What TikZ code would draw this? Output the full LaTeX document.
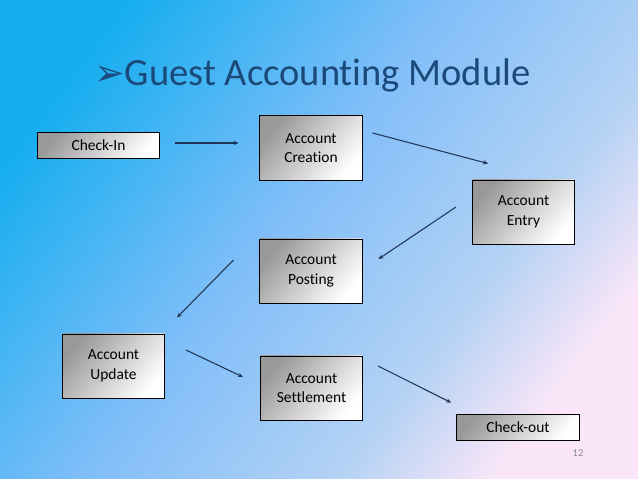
\documentclass[tikz,border=0pt]{standalone}
\usepackage{fontspec}
\setmainfont{Carlito}[Ligatures={NoCommon}]
\newfontfamily\dingfont{DejaVu Sans}
\usepackage{tikz}
\usetikzlibrary{arrows.meta,positioning,calc}

\definecolor{bgcyan}{HTML}{16AEEF}
\definecolor{bgblue}{HTML}{80BEF9}
\definecolor{bglight}{HTML}{B4D2F4}
\definecolor{bgpink}{HTML}{FAE6F8}
\definecolor{titleblue}{HTML}{1B4A7A}
\definecolor{flowline}{HTML}{1E3557}

\pgfdeclareverticalshading{slidebg}{100bp}{%
  color(0bp)=(bgpink); color(25bp)=(bgpink); color(36bp)=(bglight);
  color(54bp)=(bgblue); color(76bp)=(bgcyan); color(100bp)=(bgcyan)}

\tikzset{
  modbox/.style={draw=black, line width=0.7pt, top color=black!40, bottom color=white,
    shading angle=50, font=\fontsize{11}{14}\selectfont, align=center,
    minimum width=2.55cm, minimum height=1.6cm, inner sep=0pt},
  checkbox/.style={modbox, minimum width=3.07cm, minimum height=0.67cm},
  flow/.style={draw=flowline, line width=0.75pt, -{Stealth[length=3.5pt,width=3pt]}}
}

\begin{document}
\begin{tikzpicture}[x=0.025cm,y=-0.025cm]
    % slide background
    \shade[shading=slidebg, shading angle=53] (0,0) rectangle (638,479);
    \useasboundingbox (0,0) rectangle (638,479);

    \node[anchor=base west, text=titleblue, font=\fontsize{27.4}{30}\selectfont, inner sep=0pt]
      (title) at (94,86) {{\dingfont\fontsize{26}{28}\selectfont ➢}Guest Accounting Module};

    \node[checkbox] (checkin) at (98.5,145.5) {Check-In};
    \node[modbox] (creation) at (311,148) {Account\\Creation};
    \node[modbox] (entry) at (523.5,212) {Account\\Entry};
    \node[modbox] (posting) at (311,271) {Account\\Posting};
    \node[modbox] (update) at (113.5,366) {Account\\Update};
    \node[modbox] (settlement) at (311.5,388) {Account\\Settlement};
    \node[checkbox] (checkout) at (518,427.5) {Check-out};

    \node[text=black!45, font=\fontsize{7.5}{9}\selectfont] (pagenum) at (578,453) {12};

    % flow arrows, floating between the boxes
    \draw[flow] ([shift={(15,-2.5)}]checkin.east) -- ([shift={(-21,-5)}]creation.west);
    \draw[flow] ([shift={(10,-15)}]creation.east) -- ([shift={(16,-16)}]entry.north west);
    \draw[flow] ([shift={(-16,-5)}]entry.west) -- ([shift={(16,-12)}]posting.east);
    \draw[flow] ([shift={(-26,-11)}]posting.west) -- ([shift={(12,-16)}]update.north east);
    \draw[flow] ([shift={(21,-16)}]update.east) -- ([shift={(-17,-11)}]settlement.west);
    \draw[flow] ([shift={(15,-22)}]settlement.east) -- ([shift={(-5,-11)}]checkout.north west);
\end{tikzpicture}
\end{document}
